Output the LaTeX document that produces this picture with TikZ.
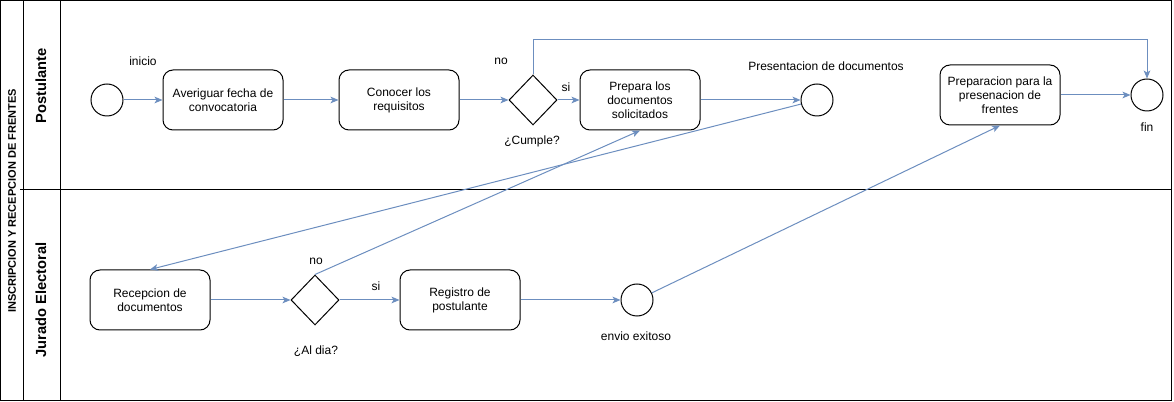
\documentclass[tikz,border=0pt]{standalone}
\usepackage{fontspec}
\setmainfont{Liberation Sans}
\usetikzlibrary{arrows.meta,shapes.geometric}
\definecolor{flow}{HTML}{6C8EBF}
\tikzset{
  px/.style={x=0.75pt,y=-0.75pt},
  task/.style={draw=black,line width=0.75pt,rounded corners=7.5pt,minimum width=90pt,minimum height=45pt,align=center,inner sep=2pt,font=\fontsize{9}{10.6}\selectfont},
  event/.style={draw=black,line width=0.75pt,circle,minimum size=24pt,inner sep=0pt},
  gateway/.style={draw=black,line width=0.75pt,diamond,minimum width=36pt,minimum height=37.5pt,inner sep=0pt},
  lbl/.style={font=\fontsize{9}{10.6}\selectfont,inner sep=0pt},
  flowarrow/.style={draw=flow,line width=0.75pt,-{Stealth[length=6pt,width=5pt,inset=1.5pt]}},
  lane/.style={draw=black,line width=0.75pt},
  lanetitle/.style={font=\fontsize{11}{13}\selectfont\bfseries,rotate=90,inner sep=0pt},
}
\begin{document}
\begin{tikzpicture}[px]
\useasboundingbox (0,0) rectangle (1174,402);
% pool frame
\draw[lane] (0.5,0.5) rectangle (1171,400.5);
\draw[lane] (23,0.5) -- (23,400.5);
\draw[lane] (60,0.5) -- (60,400.5);
\draw[lane] (20,190) -- (1171,190);
\node[lanetitle,font=\fontsize{8.25}{10}\selectfont\bfseries] (pool) at (12,201) {INSCRIPCION Y RECEPCION DE FRENTES};
\node[lanetitle] (lane1) at (41,86) {Postulante};
\node[lanetitle] (lane2) at (41,300) {Jurado Electoral};

% lane 1
\node[event] (start) at (107,100) {};
\node[lbl] (inicio) at (143,61) {inicio};
\node[task] (t1) at (223,100) {Averiguar fecha de\\convocatoria};
\node[task] (t2) at (399,100) {Conocer los\\requisitos};
\node[gateway] (g1) at (533,100) {};
\node[lbl] (g1no) at (501,61) {no};
\node[lbl] (g1si) at (566,87) {si};
\node[lbl] (g1q) at (532,141) {¿Cumple?};
\node[task] (t3) at (640,100) {Prepara los\\documentos\\solicitados};
\node[event] (pres) at (817,100) {};
\node[lbl] (preslbl) at (826,66) {Presentacion de documentos};
\node[task] (prep) at (1000,95) {Preparacion para la\\presenacion de\\frentes};
\node[event] (fin) at (1147,95) {};
\node[lbl] (finlbl) at (1147,127) {fin};

% lane 2
\node[task] (recep) at (150,300) {Recepcion de\\documentos};
\node[gateway] (g2) at (315,300) {};
\node[lbl] (g2no) at (316,261) {no};
\node[lbl] (g2si) at (376,286) {si};
\node[lbl] (g2q) at (316,351) {¿Al dia?};
\node[task] (reg) at (460,300) {Registro de\\postulante};
\node[event] (envio) at (637,300) {};
\node[lbl] (enviolbl) at (636,336) {envio exitoso};

% flows
\draw[flowarrow] (start) -- (t1);
\draw[flowarrow] (t1) -- (t2);
\draw[flowarrow] (t2) -- (g1);
\draw[flowarrow] (g1) -- (t3);
\draw[flowarrow] (g1.north) |- (1147,40) -- (fin.north);
\draw[flowarrow] (t3) -- (pres);
\draw[flowarrow] (prep) -- (fin);
\draw[flowarrow] (pres) -- (recep.north);
\draw[flowarrow] (recep) -- (g2);
\draw[flowarrow] (g2) -- (reg);
\draw[flowarrow] (g2.north) -- (t3.south);
\draw[flowarrow] (reg) -- (envio);
\draw[flowarrow] (envio) -- (prep.south);
\end{tikzpicture}
\end{document}
